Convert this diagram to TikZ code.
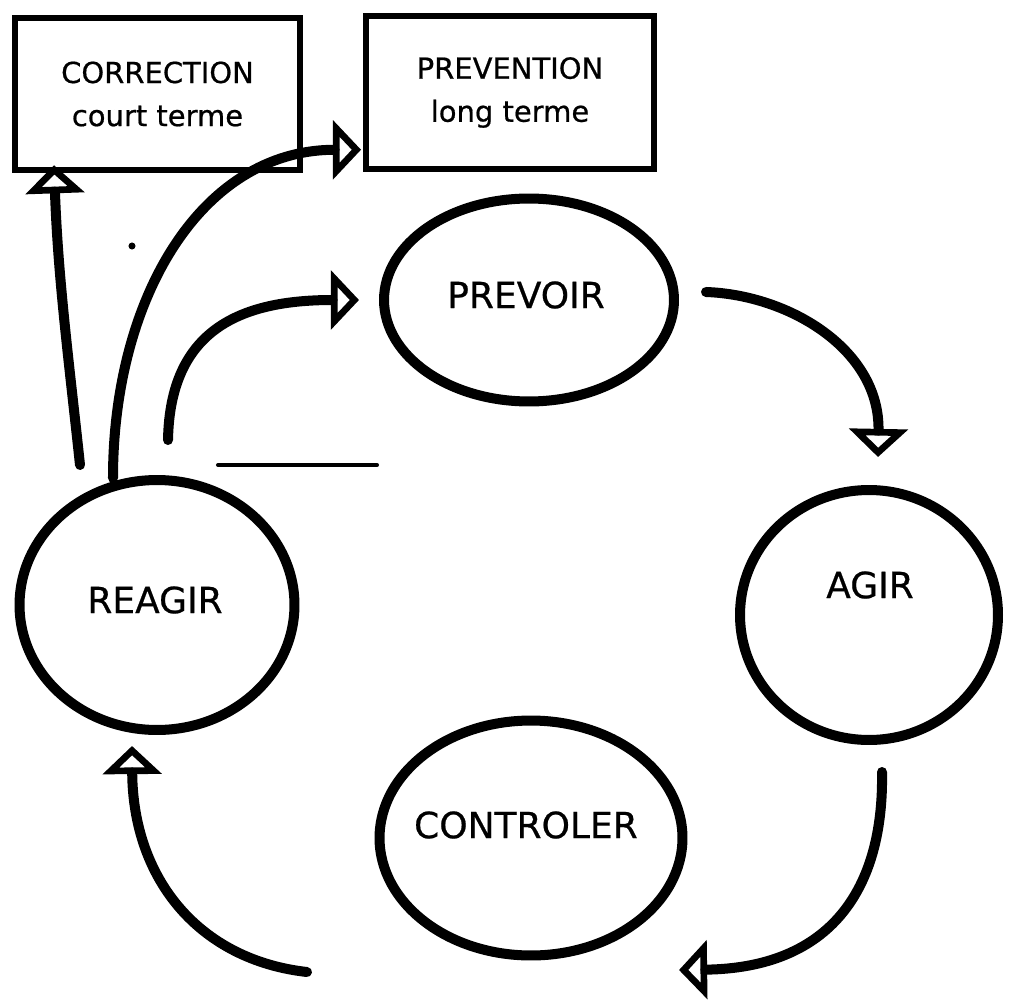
\documentclass[tikz,border=0pt]{standalone}
\usepackage{fontspec}
\setmainfont{DejaVu Sans}
\newfontfamily\traceur{DejaVu Sans}[FakeBold=0.6]
\usetikzlibrary{calc,arrows.meta,shapes.geometric,positioning}

\begin{document}
\begin{tikzpicture}[x=0.02cm,y=-0.02cm,
    boite/.style={rectangle,draw,line width=3.4pt,minimum width=5.7cm,minimum height=3.05cm,align=center,inner sep=0pt,font=\traceur\fontsize{16.5pt}{24.5pt}\selectfont},
    etape/.style={ellipse,draw,line width=5.7pt,inner sep=0pt},
    etiq/.style={draw=none,inner sep=0pt,font=\traceur\fontsize{20.5pt}{24pt}\selectfont},
    fleche/.style={line width=5.7pt,line cap=round,-{Triangle[open,length=16pt,width=33pt,line width=3.8pt]}}]

  \useasboundingbox (0,0) rectangle (1023,1003);

  \node (box_corr) [boite] at (157.5,94) {CORRECTION\\court terme};
  \node (box_prev) [boite,minimum width=5.76cm] at (510,92.5) {PREVENTION\\long terme};

  \node (ell_prevoir) [etape,minimum width=5.8cm,minimum height=4.06cm] at (529,300) {};
  \node (ell_agir) [etape,minimum width=5.16cm,minimum height=5cm] at (869,615) {};
  \node (ell_controler) [etape,minimum width=6.06cm,minimum height=4.7cm] at (531,838) {};
  \node (ell_reagir) [etape,minimum width=5.5cm,minimum height=5cm] at (157,605) {};

  \node (txt_prevoir) [etiq] at ($(ell_prevoir.center)+(-3,-5)$) {PREVOIR};
  \node (txt_agir) [etiq] at ($(ell_agir.center)+(1,-30)$) {AGIR};
  \node (txt_controler) [etiq] at ($(ell_controler.center)+(-5,-13)$) {CONTROLER};
  \node (txt_reagir) [etiq] at ($(ell_reagir.center)+(-2,-5)$) {REAGIR};

  \coordinate (r_out1) at (80,465);
  \coordinate (r_out2) at (113,478);
  \coordinate (r_out3) at (168,440);
  \coordinate (corr_in) at ($(box_corr.south west)+(42,-8)$);
  \coordinate (prev_in) at ($(box_prev.south west)+(-2,-22)$);
  \coordinate (p_in) at ($(ell_prevoir.west)+(-20,0)$);
  \coordinate (p_out) at (706,292);
  \coordinate (a_in) at (878,457);
  \coordinate (a_out) at (882,772);
  \coordinate (c_in) at (679,970);
  \coordinate (c_out) at (307,972);
  \coordinate (r_in) at (132,746);

  \draw[fleche] (r_out1) .. controls (70,370) and (58,280) .. (corr_in);
  \draw[fleche] (r_out2) .. controls (113,300) and (200,150) .. (prev_in);
  \draw[fleche] (r_out3) .. controls (170,330) and (240,300) .. (p_in);
  \draw[fleche] (p_out) .. controls (790,295) and (880,350) .. (a_in);
  \draw[fleche] (a_out) .. controls (884,890) and (830,968) .. (c_in);
  \draw[fleche] (c_out) .. controls (200,960) and (133,880) .. (r_in);

  \draw[line width=2.3pt,line cap=round] (218,465) -- (377,465);
  \fill (132,246) circle (2pt);

\end{tikzpicture}
\end{document}
